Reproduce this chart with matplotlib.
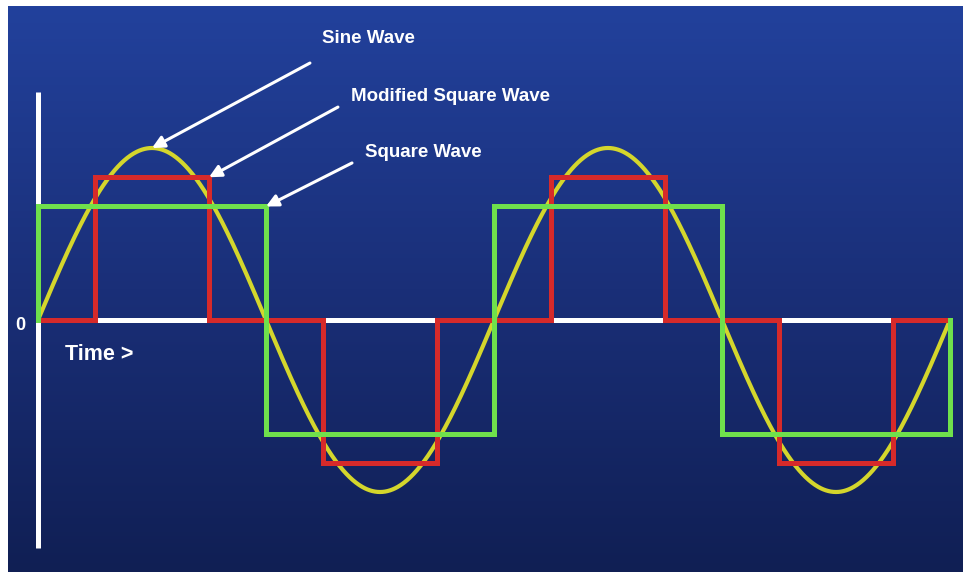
import numpy as np
import matplotlib
matplotlib.use("Agg")
import matplotlib.pyplot as plt
from matplotlib.colors import LinearSegmentedColormap

plt.rcParams['font.family'] = ['Liberation Sans', 'DejaVu Sans']

# Waveform description (time in degrees, two full cycles)
t_end = 720
sine_amp = 1.0
square_edges = [0, 180, 360, 540, 720]
square_levels = [0.66, -0.66, 0.66, -0.66]
mod_edges = [0, 45, 135, 225, 315, 405, 495, 585, 675, 720]
mod_levels = [0, 0.83, 0, -0.83, 0, 0.83, 0, -0.83, 0]

labels = ["Sine Wave", "Modified Square Wave", "Square Wave"]
# arrow tips sit on the waveforms: sine peak, modified corner, square corner
arrow_tips = [(90, sine_amp), (mod_edges[2], mod_levels[1]), (square_edges[1], square_levels[0])]
arrow_tails = [(214.7, 1.494), (236.8, 1.238), (247.9, 0.913)]
label_pos = [(260.5, 1.634), (326, 1.302), (304, 0.971)]

BG_TOP = "#22419c"
BG_BOT = "#101f54"
YELLOW = "#d4d62c"
RED = "#d62a2a"
GREEN = "#6fe04c"


def step_path(edges, levels):
    xs, ys = [edges[0]], [0]
    for i, lv in enumerate(levels):
        xs += [edges[i], edges[i + 1]]
        ys += [lv, lv]
    xs.append(edges[-1])
    ys.append(0)
    return xs, ys


W, H = 963, 572
fig = plt.figure(figsize=(W / 100, H / 100), dpi=100, facecolor="white")

# gradient background panel
bg = fig.add_axes([8 / W, 0, (W - 8) / W, (H - 6) / H])
cmap = LinearSegmentedColormap.from_list("bg", [BG_TOP, "#1a2f78", BG_BOT])
bg.imshow(np.linspace(0, 1, 256).reshape(-1, 1), cmap=cmap, aspect="auto",
          extent=[0, 1, 0, 1])
bg.set_axis_off()

# data axes: x 0..720 -> px 38..950, y zero at px 320, 1 unit = 172 px
ax = fig.add_axes([38 / W, (H - 548) / H, 912 / W, 456 / H])
ax.set_facecolor("none")
ax.set_xlim(0, t_end)
ax.set_ylim(-1.3256, 1.3256)
for s in ["top", "right", "bottom"]:
    ax.spines[s].set_visible(False)
ax.spines["left"].set_color("white")
ax.spines["left"].set_linewidth(3.6)
ax.spines["left"].set_capstyle("butt")
ax.set_xticks([])
ax.set_yticks([])

# zero line
ax.plot([0, t_end], [0, 0], color="white", lw=3.6, zorder=1, clip_on=False)

t = np.linspace(0, t_end, 1441)
ax.plot(t, sine_amp * np.sin(np.radians(t)), color=YELLOW, lw=3.0,
        zorder=2, clip_on=False, solid_capstyle="round")

mx, my = step_path(mod_edges, mod_levels)
ax.plot(mx, my, color=RED, lw=3.6, zorder=3, clip_on=False,
        solid_joinstyle="miter")

sx, sy = step_path(square_edges, square_levels)
ax.plot(sx, sy, color=GREEN, lw=3.6, zorder=4, clip_on=False,
        solid_joinstyle="miter")

for tip, tail, pos, lab in zip(arrow_tips, arrow_tails, label_pos, labels):
    ax.annotate("", xy=tip, xytext=tail, annotation_clip=False,
                arrowprops=dict(arrowstyle="-|>", color="white", lw=2.2,
                                mutation_scale=18, shrinkA=0, shrinkB=0),
                zorder=5)
    ax.text(pos[0], pos[1], lab, color="white", fontsize=13.5,
            fontweight="bold", ha="center", va="center", clip_on=False)

ax.text(-14.2, -0.03, "0", color="white", fontsize=13, fontweight="bold",
        ha="center", va="center", clip_on=False)
ax.text(21.3, -0.198, "Time >", color="white", fontsize=15.5,
        fontweight="bold", ha="left", va="center", clip_on=False)

fig.savefig("out.png", dpi=100, facecolor="white")
